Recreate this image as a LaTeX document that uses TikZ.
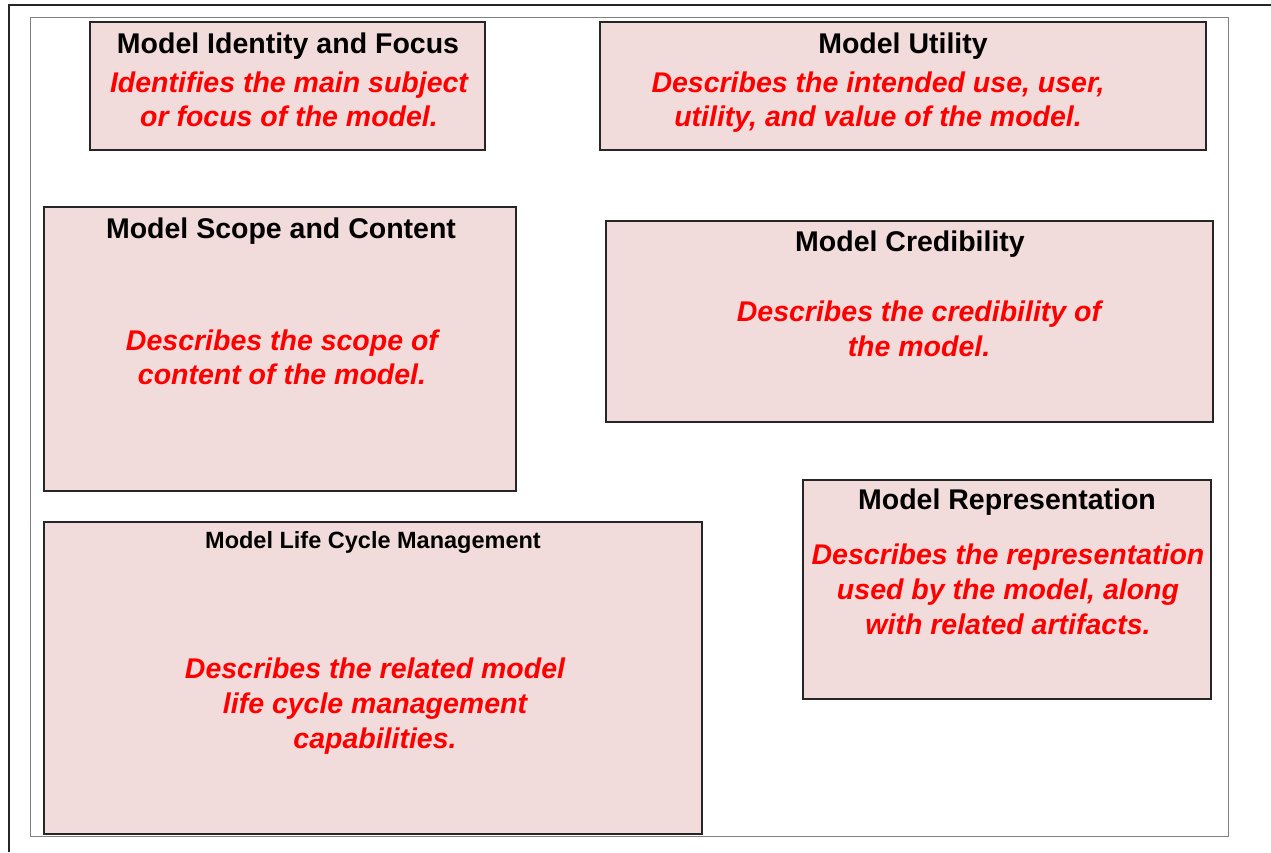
\documentclass[tikz,border=0pt]{standalone}
\usepackage{fontspec}
\setmainfont{Liberation Sans}
\definecolor{boxfill}{HTML}{F2DCDB}
\definecolor{framegray}{HTML}{808080}
\definecolor{descred}{HTML}{FF0000}
\tikzset{
  card/.style={draw=black!85, line width=1.1pt, fill=boxfill, anchor=north west, inner sep=0pt, outer sep=0pt},
  ttl/.style={anchor=base, inner sep=0pt, font=\fontsize{28.5}{34}\selectfont\bfseries},
  ttlsmall/.style={anchor=base, inner sep=0pt, font=\fontsize{23.5}{28}\selectfont\bfseries},
  desc/.style={anchor=base, inner sep=0pt, text=descred, font=\fontsize{28.5}{34}\selectfont\bfseries\itshape},
}
\begin{document}
\begin{tikzpicture}[x=1pt,y=-1pt]
\useasboundingbox (0,0) rectangle (1271,852);
% outer frame
\coordinate (fbl) at (9,852);
\coordinate (ftl) at (9,5);
\coordinate (ftr) at (1271,5);
\draw[line width=2pt, black!85] (fbl) -- (ftl) -- (ftr);
\draw[framegray, line width=1pt] (30,17) rectangle (1228,836);

% boxes
\node[card, minimum width=395pt, minimum height=128pt] (b1) at (90,22) {};
\node[card, minimum width=606pt, minimum height=128pt] (b2) at (600,22) {};
\node[card, minimum width=472pt, minimum height=284pt] (b3) at (44,207) {};
\node[card, minimum width=607pt, minimum height=201pt] (b4) at (606,221) {};
\node[card, minimum width=408pt, minimum height=219pt] (b5) at (803,480) {};
\node[card, minimum width=658pt, minimum height=312pt] (b6) at (44,522) {};

% box 1
\node[ttl] (t1) at (288,53) {Model Identity and Focus};
\node[desc] (d1a) at (289,92) {Identifies the main subject};
\node[desc] (d1b) at (289,126) {or focus of the model.};

% box 2
\node[ttl] (t2) at (903,53) {Model Utility};
\node[desc] (d2a) at (878,92) {Describes the intended use, user,};
\node[desc] (d2b) at (878,126) {utility, and value of the model.};

% box 3
\node[ttl] (t3) at (281,238) {Model Scope and Content};
\node[desc] (d3a) at (282,350) {Describes the scope of};
\node[desc] (d3b) at (282,384) {content of the model.};

% box 4
\node[ttl] (t4) at (910,251) {Model Credibility};
\node[desc] (d4a) at (919,321) {Describes the credibility of};
\node[desc] (d4b) at (919,356) {the model.};

% box 5
\node[ttl] (t5) at (1007,509) {Model Representation};
\node[desc] (d5a) at (1008,564) {Describes the representation};
\node[desc] (d5b) at (1008,599) {used by the model, along};
\node[desc] (d5c) at (1008,634) {with related artifacts.};

% box 6
\node[ttlsmall] (t6) at (373,548) {Model Life Cycle Management};
\node[desc] (d6a) at (375,678) {Describes the related model};
\node[desc] (d6b) at (375,713) {life cycle management};
\node[desc] (d6c) at (375,748) {capabilities.};
\end{tikzpicture}
\end{document}
